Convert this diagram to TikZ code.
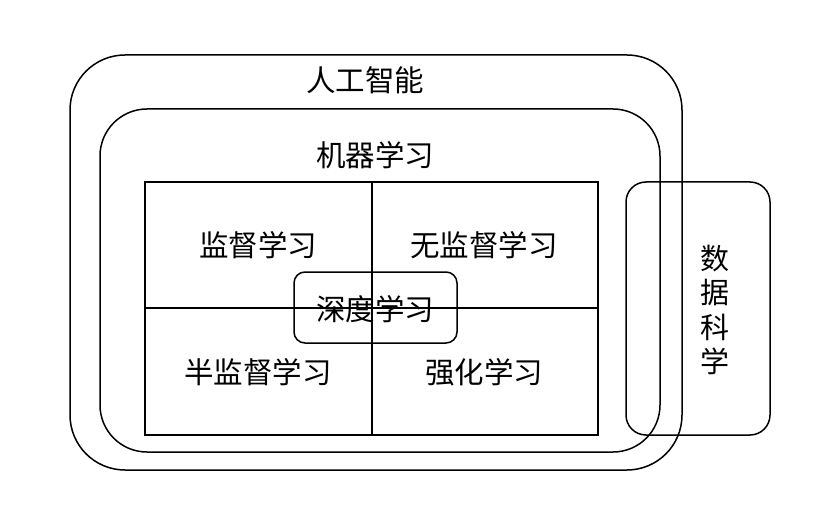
\documentclass[tikz,border=0pt]{standalone}
\usepackage{fontspec}
\setmainfont{Noto Sans CJK SC}
\begin{document}
\begin{tikzpicture}[x=1pt,y=-1pt,
  frame/.style={draw=black,line width=1.5pt},
  lbl/.style={font=\fontsize{29.5}{32}\selectfont,inner sep=0pt}]
\useasboundingbox (0,0) rectangle (822,505);
% outer AI
\draw[frame,rounded corners=55] (70,55) rectangle (682,470);
\node[lbl] (ai) at (365,80) {人工智能};
% ML
\draw[frame,rounded corners=47] (100,109) rectangle (660,452);
\node[lbl] (ml) at (375,155) {机器学习};
% grid
\draw[frame] (145,182) rectangle (598,435);
\draw[frame] (372,182) -- (372,435);
\draw[frame] (145,308) -- (598,308);
\node[lbl] (sup) at (258,245) {监督学习};
\node[lbl] (unsup) at (484,245) {无监督学习};
\node[lbl] (semi) at (258,372) {半监督学习};
\node[lbl] (rl) at (484,372) {强化学习};
% deep learning
\draw[frame,rounded corners=11] (294,272) rectangle (457,343);
\node[lbl] (dl) at (375,309) {深度学习};
% data science
\draw[frame,rounded corners=20] (626,182) rectangle (770,435);
\node[lbl,align=center,font=\fontsize{29}{34.5}\selectfont] (ds) at (715,310) {数\\据\\科\\学};
\end{tikzpicture}
\end{document}
